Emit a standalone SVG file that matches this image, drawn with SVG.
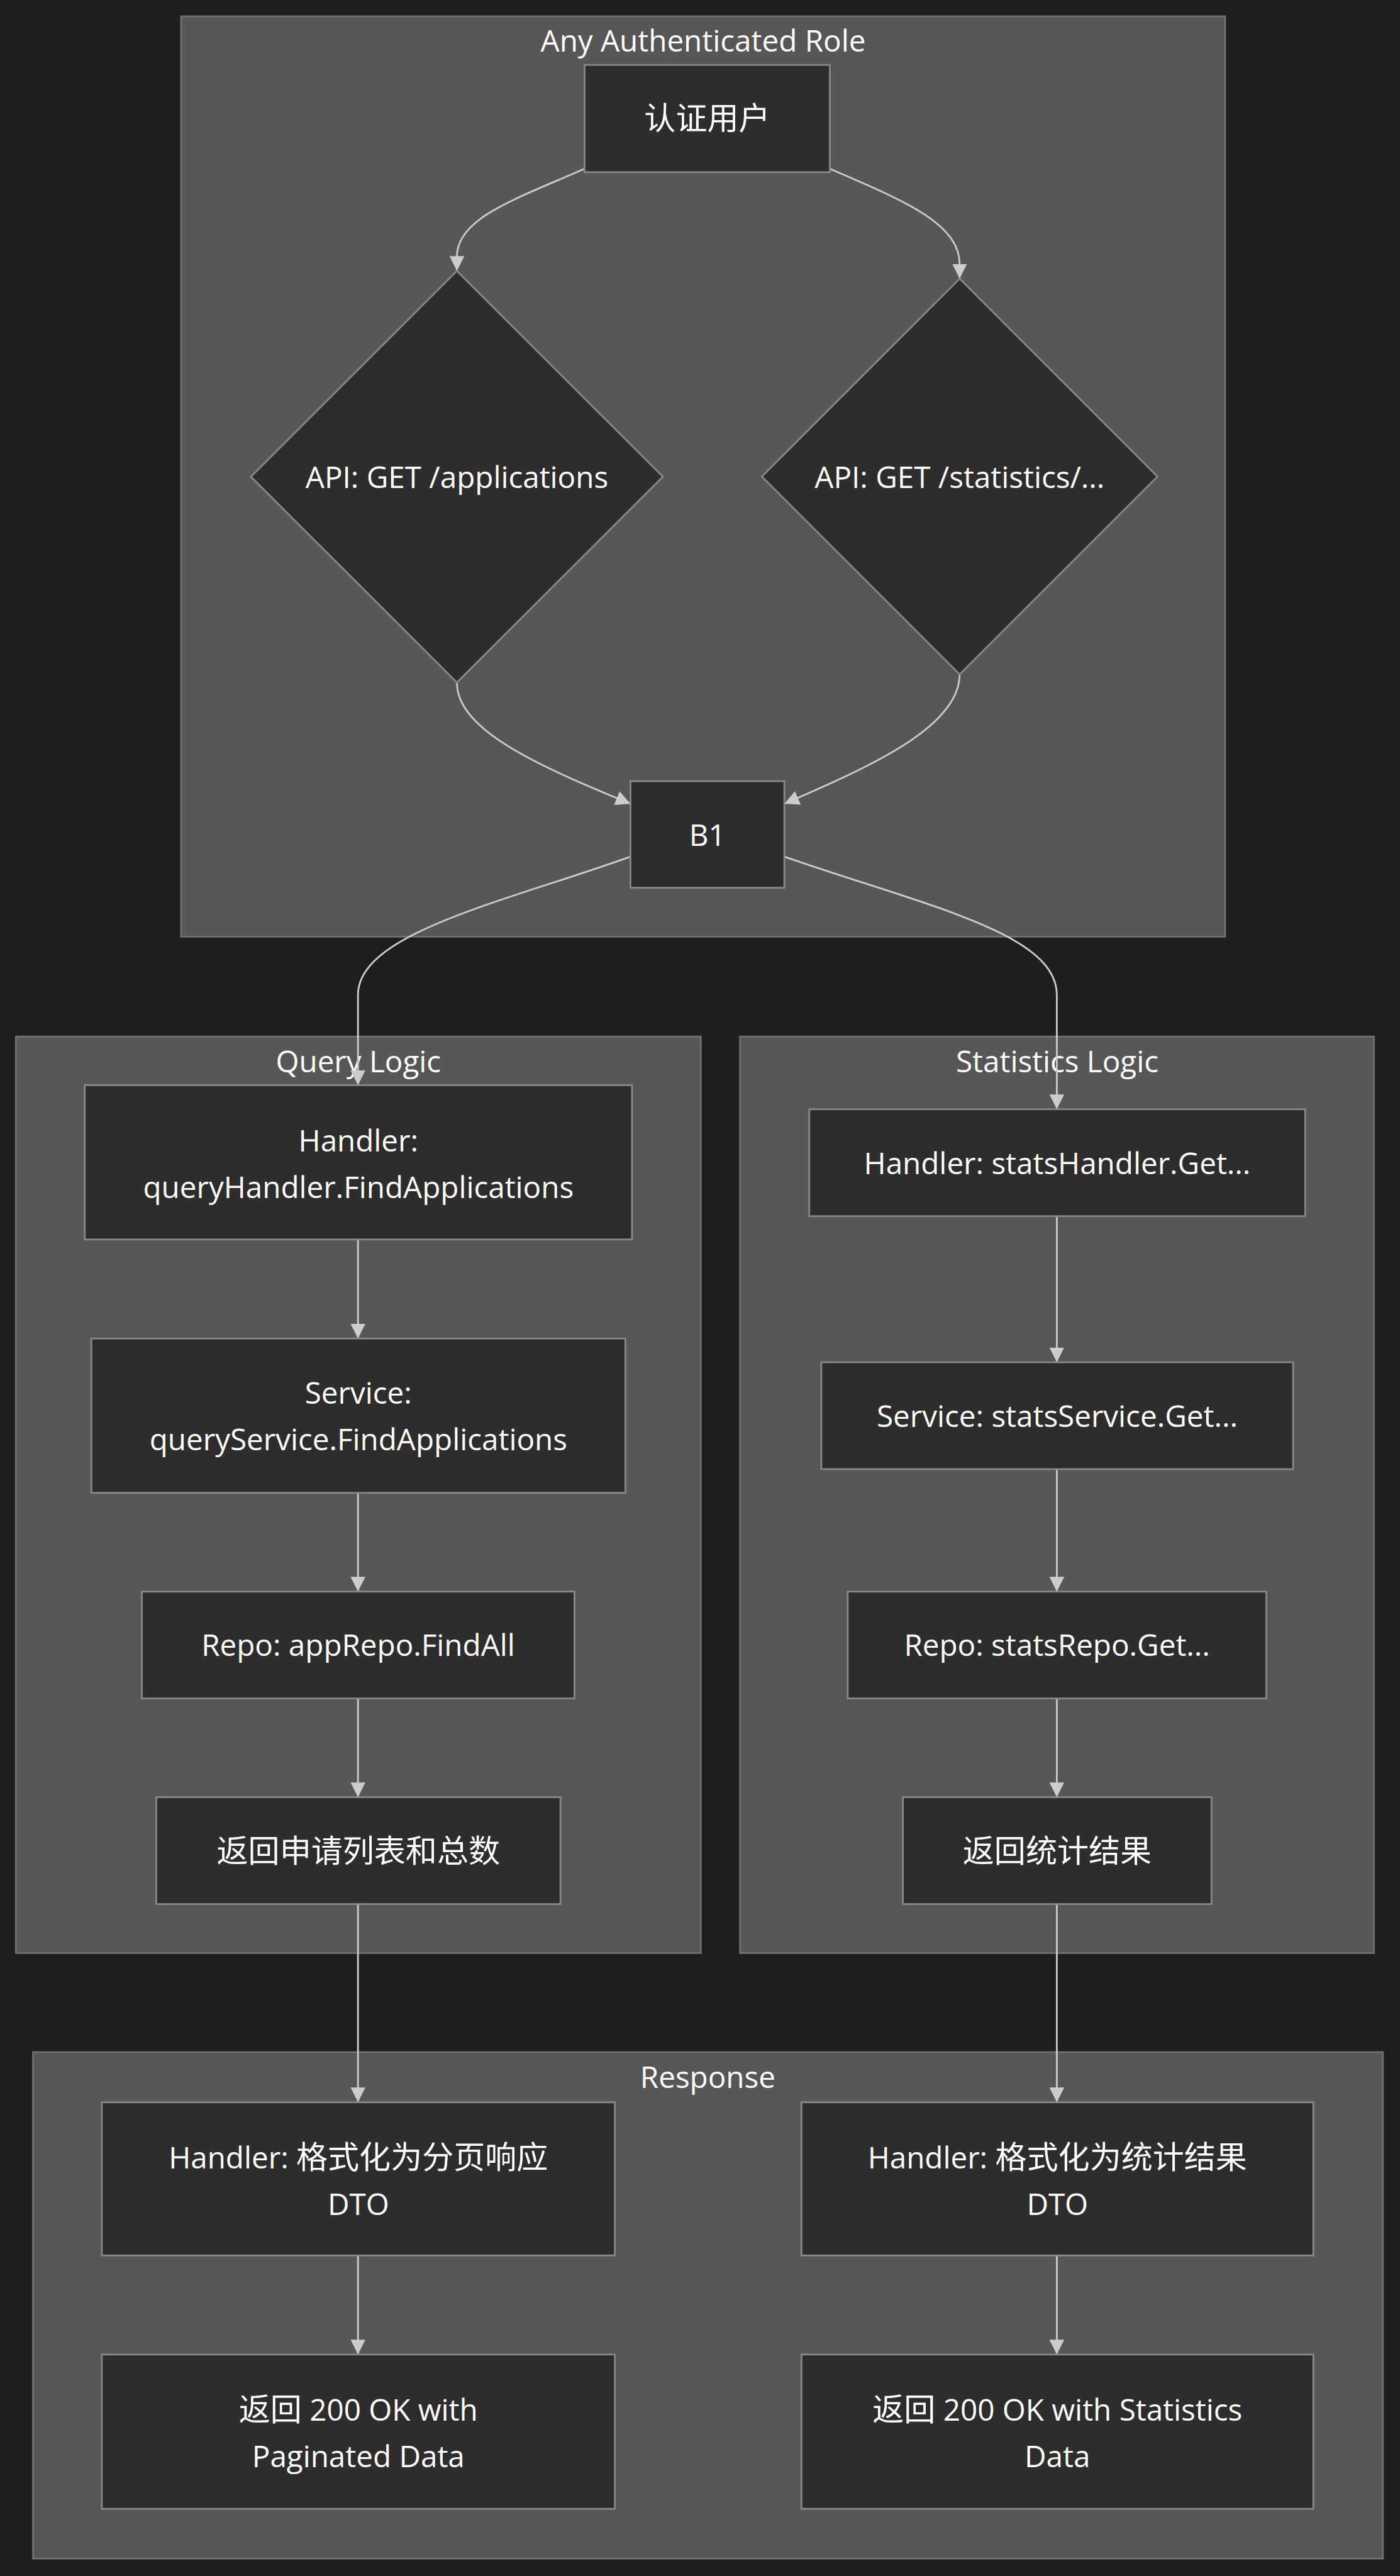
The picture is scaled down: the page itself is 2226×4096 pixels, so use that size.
<svg xmlns="http://www.w3.org/2000/svg" width="2226" height="4096" viewBox="0 0 2226 4096">
<style>
.bg{fill:#1e1e1e}
.cluster{fill:#575757;stroke:#707070;stroke-width:4.5}
.node{fill:#2d2d2d;stroke:#888888;stroke-width:4.5}
.edge{fill:none;stroke:#cccccc;stroke-width:4.5}
.t{font-family:"Open Sans","Noto Sans","Noto Sans CJK SC",sans-serif;font-size:77px;fill:#ffffff;text-anchor:middle}
.c{font-family:"Noto Sans CJK SC",sans-serif;font-size:81px}
</style>
<defs>
<marker id="arr" viewBox="0 0 10 10" refX="10" refY="5" markerWidth="38" markerHeight="38" markerUnits="userSpaceOnUse" orient="auto">
<path d="M0,0 L10,5 L0,10 z" fill="#cccccc"/>
</marker>
</defs>
<rect class="bg" x="0" y="0" width="2226" height="4096"/>
<g transform="scale(0.618)">
<g id="cluster-auth">
<rect class="cluster" x="466" y="42" width="2686" height="2368"/>
<text class="t" x="1809" y="133">Any Authenticated Role</text>
</g>
<g id="cluster-query">
<rect class="cluster" x="41" y="2667" width="1762" height="2358"/>
<text class="t" x="922" y="2759">Query Logic</text>
</g>
<g id="cluster-stats">
<rect class="cluster" x="1904" y="2667" width="1631" height="2358"/>
<text class="t" x="2720" y="2759">Statistics Logic</text>
</g>
<g id="cluster-response">
<rect class="cluster" x="85" y="5280" width="3473" height="1303"/>
<text class="t" x="1821" y="5372">Response</text>
</g>

<g id="connectors">
<path class="edge" marker-end="url(#arr)" d="M1504,434 C1330,511 1175.5,560 1175.5,660 L1175.5,697"/>
<path class="edge" marker-end="url(#arr)" d="M2135,434 C2310,511 2469,570 2469,680 L2469,717"/>
<path class="edge" marker-end="url(#arr)" d="M1175.5,1756 C1175.5,1880 1390,1972 1622,2068"/>
<path class="edge" marker-end="url(#arr)" d="M2469,1735 C2469,1870 2240,1972 2018,2068"/>
<path class="edge" marker-end="url(#arr)" d="M1622,2204 C1300,2320 921,2400 921,2560 L921,2792"/>
<path class="edge" marker-end="url(#arr)" d="M2018,2204 C2380,2330 2719,2400 2719,2560 L2719,2854"/>
<path class="edge" marker-end="url(#arr)" d="M921,3189 L921,3444"/>
<path class="edge" marker-end="url(#arr)" d="M921,3841 L921,4095"/>
<path class="edge" marker-end="url(#arr)" d="M921,4370 L921,4624"/>
<path class="edge" marker-end="url(#arr)" d="M921,4899 L921,5409"/>
<path class="edge" marker-end="url(#arr)" d="M921,5803 L921,6058"/>
<path class="edge" marker-end="url(#arr)" d="M2719,3129 L2719,3505"/>
<path class="edge" marker-end="url(#arr)" d="M2719,3780 L2719,4095"/>
<path class="edge" marker-end="url(#arr)" d="M2719,4370 L2719,4624"/>
<path class="edge" marker-end="url(#arr)" d="M2719,4899 L2719,5409"/>
<path class="edge" marker-end="url(#arr)" d="M2719,5803 L2719,6058"/>
</g>

<g id="node-auth">
<rect class="node" x="1504" y="167" width="631" height="276"/>
<text class="t" x="1819.5" y="334"><tspan class="c">认证用户</tspan></text>
</g>
<g id="node-api-apps">
<polygon class="node" points="1175.5,697 1705.5,1226.5 1175.5,1756 645.5,1226.5"/>
<text class="t" x="1175.5" y="1255">API: GET /applications</text>
</g>
<g id="node-api-stats">
<polygon class="node" points="2469,717 2978,1226 2469,1735 1960,1226"/>
<text class="t" x="2469" y="1255">API: GET /statistics/...</text>
</g>
<g id="node-b1">
<rect class="node" x="1622" y="2010" width="396" height="274"/>
<text class="t" x="1820" y="2177">B1</text>
</g>
<g id="node-q-handler">
<rect class="node" x="218" y="2792" width="1408" height="397"/>
<text class="t" x="922" y="2962">Handler:</text>
<text class="t" x="922" y="3082">queryHandler.FindApplications</text>
</g>
<g id="node-q-service">
<rect class="node" x="235" y="3444" width="1374" height="397"/>
<text class="t" x="922" y="3612">Service:</text>
<text class="t" x="922" y="3732">queryService.FindApplications</text>
</g>
<g id="node-q-repo">
<rect class="node" x="365" y="4095" width="1113" height="275"/>
<text class="t" x="921.5" y="4261">Repo: appRepo.FindAll</text>
</g>
<g id="node-q-return">
<rect class="node" x="402" y="4624" width="1040" height="275"/>
<text class="t" x="922" y="4791"><tspan class="c">返回申请列表和总数</tspan></text>
</g>
<g id="node-s-handler">
<rect class="node" x="2082" y="2854" width="1276" height="275"/>
<text class="t" x="2720" y="3021">Handler: statsHandler.Get...</text>
</g>
<g id="node-s-service">
<rect class="node" x="2113" y="3505" width="1214" height="275"/>
<text class="t" x="2720" y="3671">Service: statsService.Get...</text>
</g>
<g id="node-s-repo">
<rect class="node" x="2181" y="4095" width="1077" height="275"/>
<text class="t" x="2719.5" y="4261">Repo: statsRepo.Get...</text>
</g>
<g id="node-s-return">
<rect class="node" x="2323" y="4624" width="794" height="275"/>
<text class="t" x="2720" y="4791"><tspan class="c">返回统计结果</tspan></text>
</g>
<g id="node-r-page-dto">
<rect class="node" x="262" y="5409" width="1320" height="394"/>
<text class="t" x="922" y="5579">Handler: <tspan class="c">格式化为分页响应</tspan></text>
<text class="t" x="922" y="5699">DTO</text>
</g>
<g id="node-r-stats-dto">
<rect class="node" x="2062" y="5409" width="1317" height="394"/>
<text class="t" x="2720.5" y="5579">Handler: <tspan class="c">格式化为统计结果</tspan></text>
<text class="t" x="2720.5" y="5699">DTO</text>
</g>
<g id="node-r-page-ok">
<rect class="node" x="262" y="6058" width="1320" height="397"/>
<text class="t" x="922" y="6228"><tspan class="c">返回</tspan> 200 OK with</text>
<text class="t" x="922" y="6348">Paginated Data</text>
</g>
<g id="node-r-stats-ok">
<rect class="node" x="2062" y="6058" width="1317" height="397"/>
<text class="t" x="2720.5" y="6228"><tspan class="c">返回</tspan> 200 OK with Statistics</text>
<text class="t" x="2720.5" y="6348">Data</text>
</g>
</g>
</svg>
